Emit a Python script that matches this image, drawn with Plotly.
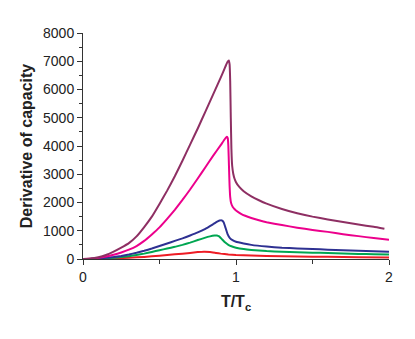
import plotly.graph_objects as go

# T/Tc sample points and derivative-of-capacity values
x_maroon = [0, 0.05, 0.1, 0.15, 0.2, 0.25, 0.3, 0.35, 0.4, 0.45, 0.5, 0.55, 0.6, 0.65, 0.7, 0.75, 0.8, 0.85,
            0.9, 0.93, 0.945, 0.953, 0.958, 0.962, 0.966, 0.97, 0.975, 0.982, 0.99, 1.0, 1.02, 1.05, 1.1,
            1.15, 1.2, 1.3, 1.4, 1.5, 1.6, 1.7, 1.8, 1.9, 1.97]
y_maroon = [0, 15, 60, 140, 260, 400, 560, 800, 1130, 1500, 1950, 2420, 2930, 3480, 4050, 4620, 5220, 5820,
            6420, 6800, 6980, 7030, 6900, 6300, 5000, 3900, 3300, 3020, 2850, 2720, 2560, 2400, 2220,
            2080, 1960, 1770, 1620, 1500, 1400, 1310, 1220, 1140, 1070]

x_magenta = [0, 0.05, 0.1, 0.15, 0.2, 0.25, 0.3, 0.35, 0.4, 0.45, 0.5, 0.55, 0.6, 0.65, 0.7, 0.75, 0.8, 0.85,
             0.9, 0.925, 0.94, 0.946, 0.95, 0.954, 0.958, 0.962, 0.968, 0.978, 0.99, 1.0, 1.03, 1.06, 1.1,
             1.15, 1.2, 1.3, 1.4, 1.5, 1.6, 1.7, 1.8, 1.9, 2.0]
y_magenta = [0, 10, 40, 90, 150, 230, 330, 460, 640, 870, 1120, 1420, 1740, 2090, 2460, 2850, 3250, 3650,
             4030, 4230, 4330, 4280, 4000, 3300, 2600, 2200, 1980, 1850, 1770, 1720, 1610, 1530, 1450,
             1370, 1300, 1200, 1110, 1030, 960, 880, 810, 740, 680]

x_blue = [0, 0.05, 0.1, 0.15, 0.2, 0.25, 0.3, 0.35, 0.4, 0.45, 0.5, 0.55, 0.6, 0.65, 0.7, 0.75, 0.8, 0.85,
          0.88, 0.9, 0.91, 0.92, 0.93, 0.945, 0.96, 0.98, 1.0, 1.05, 1.1, 1.2, 1.3, 1.4, 1.5, 1.6, 1.7,
          1.8, 1.9, 2.0]
y_blue = [0, 5, 20, 40, 70, 110, 160, 220, 290, 370, 460, 550, 640, 730, 830, 940, 1070, 1230,
          1330, 1370, 1360, 1290, 1130, 880, 740, 660, 610, 550, 500, 440, 400, 375, 355, 330, 310,
          290, 275, 260]

x_green = [0, 0.05, 0.1, 0.15, 0.2, 0.25, 0.3, 0.35, 0.4, 0.45, 0.5, 0.55, 0.6, 0.65, 0.7, 0.75, 0.79,
           0.83, 0.86, 0.875, 0.89, 0.91, 0.93, 0.95, 0.97, 1.0, 1.05, 1.1, 1.2, 1.3, 1.4, 1.5, 1.6, 1.7,
           1.8, 1.9, 2.0]
y_green = [0, 3, 12, 25, 45, 70, 100, 145, 190, 250, 310, 370, 430, 500, 580, 670, 740,
           800, 830, 835, 800, 690, 580, 500, 450, 400, 350, 320, 280, 255, 240, 225, 210, 195,
           180, 170, 160]

x_red = [0, 0.1, 0.2, 0.3, 0.4, 0.5, 0.6, 0.7, 0.75, 0.79, 0.83, 0.87, 0.9, 0.95, 1.0,
         1.1, 1.2, 1.4, 1.6, 1.8, 2.0]
y_red = [0, 5, 20, 45, 75, 115, 165, 215, 245, 260, 250, 215, 190, 160, 140,
         120, 105, 88, 77, 66, 55]

series = [
    (x_red, y_red, "#ED1C24"),
    (x_green, y_green, "#00A651"),
    (x_blue, y_blue, "#2E3192"),
    (x_magenta, y_magenta, "#EC008C"),
    (x_maroon, y_maroon, "#8E2F63"),
]

fig = go.Figure(data=[
    go.Scatter(x=xs, y=ys, mode='lines', line=dict(color=c, width=2, shape='spline', smoothing=0.3),
               showlegend=False)
    for xs, ys, c in series
])

axis_font = dict(family="Liberation Sans, Arial", size=14, color="#222")
title_font = dict(family="Liberation Sans, Arial", size=16, color="#222")
fig.update_xaxes(
    range=[0, 2], tickvals=[0, 1, 2], ticktext=["0", "1", "2"],
    showline=True, linecolor="#333", linewidth=1, showgrid=False, zeroline=False,
    ticks="outside", ticklen=5, tickcolor="#333",
    minor=dict(dtick=0.5, ticks="outside", ticklen=4, tickcolor="#333"),
    tickfont=axis_font, automargin=False,
    title=dict(text="<b>T/T<sub>c</sub></b>", font=title_font, standoff=12),
)
fig.update_yaxes(
    range=[0, 8000], dtick=1000, tickformat="d",
    showline=True, linecolor="#333", linewidth=1, showgrid=False, zeroline=False,
    ticks="outside", ticklen=5, tickcolor="#333",
    minor=dict(dtick=500, ticks="outside", ticklen=3, tickcolor="#333"),
    tickfont=axis_font, automargin=False,
    title=dict(text="<b>Derivative of capacity</b>", font=title_font, standoff=6),
)
# page body adds an 8px offset, so margins are shifted to compensate
fig.update_layout(
    width=415, height=339, autosize=False,
    margin=dict(l=75, r=34, t=25, b=88),
    plot_bgcolor="white", paper_bgcolor="white",
)
fig.write_html("out.html")
